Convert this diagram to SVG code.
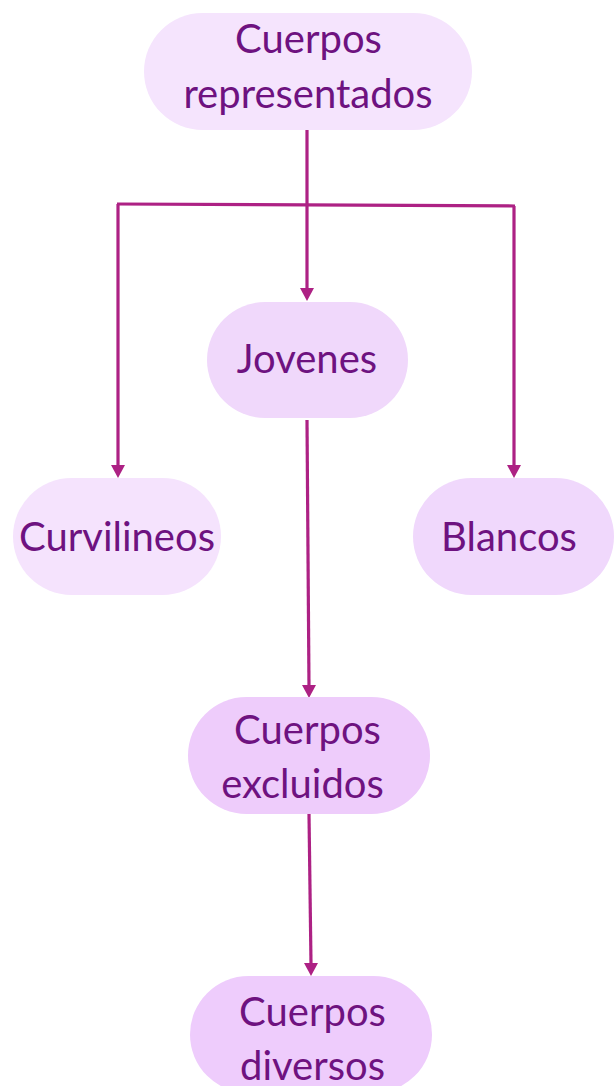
<svg xmlns="http://www.w3.org/2000/svg" width="614" height="1086" viewBox="0 0 614 1086">
<style>
.t{font-family:Lato,"Liberation Sans",sans-serif;font-size:40px;fill:#6E1280;text-anchor:middle}
.c{stroke:#AD2184;stroke-width:3.2;fill:none}
.a{fill:#AD2184}
</style>
<rect width="614" height="1086" fill="#FFFFFF"/>
<g id="connectors">
<path class="c" d="M307,130 L307,290"/>
<path class="a" d="M300,288 L314,288 L307,301 Z"/>
<path class="c" d="M117,204 L515,206"/>
<path class="c" d="M118,204 L118,467"/>
<path class="a" d="M111,465 L125,465 L118,478 Z"/>
<path class="c" d="M514,206 L514,467"/>
<path class="a" d="M507,465 L521,465 L514,478 Z"/>
<path class="c" d="M307,420 L309,686"/>
<path class="a" d="M302,685 L316,685 L309,698 Z"/>
<path class="c" d="M309,814 L311,964"/>
<path class="a" d="M304,963 L318,963 L311,976 Z"/>
</g>
<g id="n1">
<rect x="144" y="13" width="328" height="117" rx="58.5" fill="#F5E4FD"/>
<text class="t" x="308.5" y="53">Cuerpos</text>
<text class="t" x="308" y="108">representados</text>
</g>
<g id="n2">
<rect x="207" y="302" width="201" height="116" rx="58" fill="#F0D8FB"/>
<text class="t" x="307" y="373">Jovenes</text>
</g>
<g id="n3">
<rect x="13" y="478" width="208" height="117" rx="58.5" fill="#F5E3FD"/>
<text class="t" x="117" y="551">Curvilineos</text>
</g>
<g id="n4">
<rect x="413" y="478" width="201" height="117" rx="58.5" fill="#F0D8FC"/>
<text class="t" x="509" y="551">Blancos</text>
</g>
<g id="n5">
<rect x="188" y="697" width="242" height="117" rx="58.5" fill="#EECCFB"/>
<text class="t" x="307.5" y="744">Cuerpos</text>
<text class="t" x="302.5" y="798">excluidos</text>
</g>
<g id="n6">
<rect x="190" y="976" width="242" height="117" rx="58.5" fill="#EECCFC"/>
<text class="t" x="312.5" y="1026">Cuerpos</text>
<text class="t" x="312.5" y="1080">diversos</text>
</g>
</svg>
